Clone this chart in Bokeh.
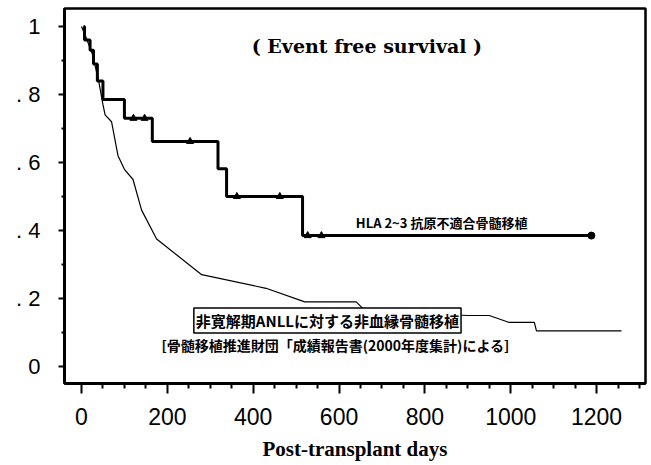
from bokeh.plotting import figure
from bokeh.models import FixedTicker, Range1d, Label
from bokeh.core.properties import value
from bokeh.embed import file_html
from bokeh.resources import INLINE

# Thick curve: HLA 2-3 antigen mismatched BMT (Kaplan-Meier steps)
hla_days = [5, 7, 20, 28, 37, 50, 100, 165, 318, 338, 515, 1188]
hla_surv = [1.0, 0.96, 0.93, 0.89, 0.84, 0.785, 0.73, 0.662, 0.582, 0.50, 0.385, 0.385]
# censor marks
cens_days = [121, 147, 253, 362, 462, 527, 559]
cens_surv = [0.73, 0.73, 0.662, 0.50, 0.50, 0.385, 0.385]
end_day = [1188]
end_surv = [0.385]

# Thin curve: unrelated BMT for non-remission ANLL (registry)
anll_days = [0, 10, 25, 40, 50, 55, 70, 85, 100, 120, 140, 175, 280, 430, 520,
             640, 660, 900, 950, 995, 1055, 1060, 1258]
anll_surv = [1.0, 0.97, 0.92, 0.84, 0.77, 0.74, 0.72, 0.62, 0.58, 0.55, 0.46, 0.375,
             0.27, 0.23, 0.19, 0.19, 0.165, 0.15, 0.15, 0.13, 0.13, 0.105, 0.105]

x_ticks = [0, 200, 400, 600, 800, 1000, 1200]
x_minor = [50, 100, 150, 250, 300, 350, 450, 500, 550, 650, 700, 750, 850, 900, 950,
           1050, 1100, 1150, 1250, 1300]
y_ticks = [0.0, 0.2, 0.4, 0.6, 0.8, 1.0]
y_tick_labels = ["0", ". 2", ". 4", ". 6", ". 8", "1"]
y_minor = [0.1, 0.3, 0.5, 0.7, 0.9]

title_text = "( Event free survival )"
x_label = "Post-transplant days"
hla_label = "HLA 2~3 抗原不適合骨髄移植"
anll_label = "非寛解期ANLLに対する非血縁骨髄移植"
source_label = "[骨髄移植推進財団「成績報告書(2000年度集計)による]"

X0, X1 = -39.6, 1314
Y0, Y1 = -0.05, 1.053

p = figure(width=651, height=465, output_backend="svg", toolbar_location=None,
           x_range=Range1d(X0, X1), y_range=Range1d(Y0, Y1),
           min_border_left=64, min_border_right=6, min_border_top=8, min_border_bottom=82)
p.background_fill_color = "white"
p.border_fill_color = "white"
p.outline_line_color = "black"
p.outline_line_width = 2.5
p.outline_line_alpha = 1.0
p.xgrid.visible = False
p.ygrid.visible = False

tick_font = "Liberation Sans"
p.xaxis.ticker = FixedTicker(ticks=x_ticks, minor_ticks=x_minor)
p.yaxis.ticker = FixedTicker(ticks=y_ticks, minor_ticks=y_minor)
p.yaxis.major_label_overrides = {t: l for t, l in zip(y_ticks, y_tick_labels)}
for ax in (p.xaxis[0], p.yaxis[0]):
    ax.axis_line_color = "black"
    ax.axis_line_width = 3
    ax.axis_line_alpha = 1.0
    ax.major_tick_line_color = "black"
    ax.major_tick_line_width = 2
    ax.minor_tick_line_color = "black"
    ax.minor_tick_line_width = 2
    ax.major_label_text_font = tick_font
    ax.major_label_text_color = "black"
    ax.major_label_text_font_size = "23px"
p.xaxis.major_tick_out = 10
p.xaxis.major_tick_in = 0
p.xaxis.minor_tick_out = 5
p.xaxis.minor_tick_in = 0
p.xaxis.major_label_standoff = 14
p.yaxis.major_tick_out = 6
p.yaxis.major_tick_in = 0
p.yaxis.minor_tick_out = 3
p.yaxis.minor_tick_in = 0
p.yaxis.major_label_standoff = 18
p.yaxis.major_label_text_font_size = "22px"

p.xaxis.axis_label = x_label
p.xaxis.axis_label_text_font = "Liberation Serif"
p.xaxis.axis_label_text_font_style = "bold"
p.xaxis.axis_label_text_font_size = "21px"
p.xaxis.axis_label_text_color = "black"
p.xaxis.axis_label_standoff = 9

# curves
p.line(anll_days, anll_surv, line_color="black", line_width=1.2)
p.step(hla_days, hla_surv, mode="after", line_color="black", line_width=3)
p.scatter(cens_days, cens_surv, marker="triangle", size=7, color="black")
p.scatter(end_day, end_surv, marker="circle", size=7, color="black")

# labels
p.add_layout(Label(x=665, y=0.944, text=title_text,
                   text_font="DejaVu Serif", text_font_style="bold", text_font_size="19px",
                   text_align="center", text_baseline="middle", text_color="black"))
p.text([839], [0.424], text=[hla_label], text_font=value("Noto Sans CJK JP"),
       text_font_style="bold", text_font_size="13px", text_align="center",
       text_baseline="middle", text_color="black")
p.add_layout(Label(x=573, y=0.135, text=anll_label,
                   text_font="Noto Sans CJK JP", text_font_style="bold", text_font_size="15px",
                   text_align="center", text_baseline="middle", text_color="black",
                   background_fill_color="white", border_line_color="black", border_line_width=1.5,
                   padding=2))
p.text([592], [0.062], text=[source_label], text_font=value("Noto Sans CJK JP"),
       text_font_style="bold", text_font_size="14px", text_align="center",
       text_baseline="middle", text_color="black")

open("out.html", "w").write(file_html(p, INLINE))
